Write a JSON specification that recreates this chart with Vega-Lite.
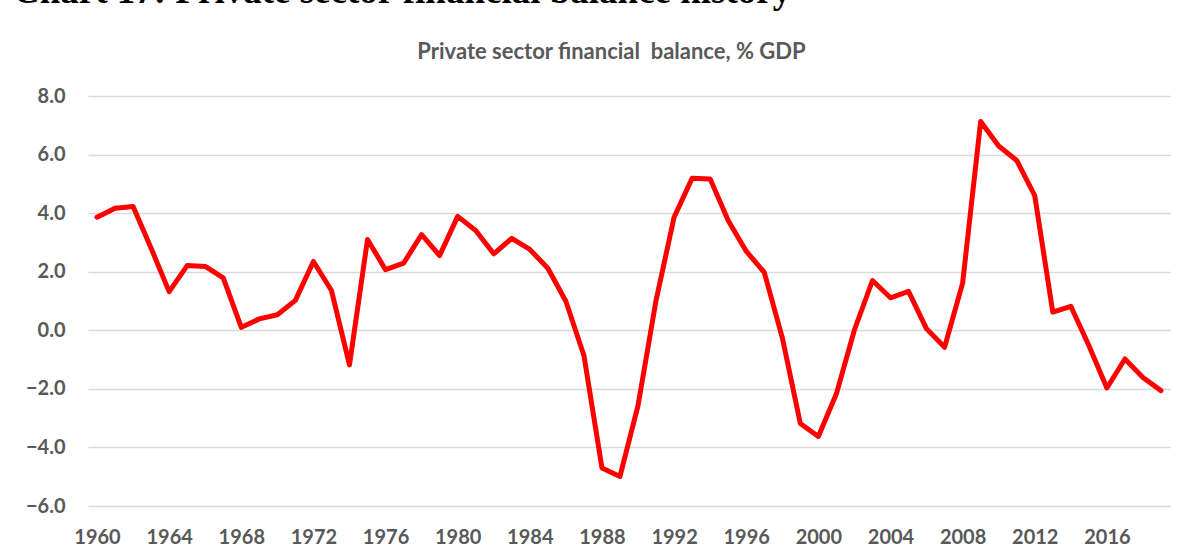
{
  "$schema": "https://vega.github.io/schema/vega-lite/v6.json",
  "autosize": {"type": "none"},
  "padding": {"left": 88, "top": 96, "right": 32, "bottom": 53},
  "width": 1082,
  "height": 410,
  "background": "white",
  "title": {
    "text": "Chart 17: Private sector financial balance history",
    "anchor": "start",
    "frame": "group",
    "font": "Liberation Serif",
    "fontSize": 37,
    "fontWeight": "bold",
    "color": "#000000",
    "baseline": "alphabetic",
    "offset": 0,
    "dx": -75,
    "dy": 0
  },
  "config": {
    "view": {"stroke": null},
    "axis": {
      "labelFont": "Lato",
      "labelFontWeight": "bold",
      "labelFontSize": 20,
      "labelColor": "#595959",
      "ticks": false,
      "domain": false
    }
  },
  "data": {
    "values": [
      {"year": 1960, "balance": 3.86}, {"year": 1961, "balance": 4.17}, {"year": 1962, "balance": 4.23},
      {"year": 1963, "balance": 2.8}, {"year": 1964, "balance": 1.32}, {"year": 1965, "balance": 2.21},
      {"year": 1966, "balance": 2.18}, {"year": 1967, "balance": 1.79}, {"year": 1968, "balance": 0.10},
      {"year": 1969, "balance": 0.39}, {"year": 1970, "balance": 0.53}, {"year": 1971, "balance": 1.02},
      {"year": 1972, "balance": 2.35}, {"year": 1973, "balance": 1.36}, {"year": 1974, "balance": -1.18},
      {"year": 1975, "balance": 3.10}, {"year": 1976, "balance": 2.07}, {"year": 1977, "balance": 2.29},
      {"year": 1978, "balance": 3.27}, {"year": 1979, "balance": 2.55}, {"year": 1980, "balance": 3.89},
      {"year": 1981, "balance": 3.41}, {"year": 1982, "balance": 2.61}, {"year": 1983, "balance": 3.14},
      {"year": 1984, "balance": 2.76}, {"year": 1985, "balance": 2.12}, {"year": 1986, "balance": 0.99},
      {"year": 1987, "balance": -0.86}, {"year": 1988, "balance": -4.70}, {"year": 1989, "balance": -4.99},
      {"year": 1990, "balance": -2.57}, {"year": 1991, "balance": 1.02}, {"year": 1992, "balance": 3.86},
      {"year": 1993, "balance": 5.19}, {"year": 1994, "balance": 5.17}, {"year": 1995, "balance": 3.75},
      {"year": 1996, "balance": 2.70}, {"year": 1997, "balance": 1.98}, {"year": 1998, "balance": -0.25},
      {"year": 1999, "balance": -3.18}, {"year": 2000, "balance": -3.63}, {"year": 2001, "balance": -2.17},
      {"year": 2002, "balance": 0.01}, {"year": 2003, "balance": 1.70}, {"year": 2004, "balance": 1.11},
      {"year": 2005, "balance": 1.33}, {"year": 2006, "balance": 0.05}, {"year": 2007, "balance": -0.58},
      {"year": 2008, "balance": 1.61}, {"year": 2009, "balance": 7.13}, {"year": 2010, "balance": 6.29},
      {"year": 2011, "balance": 5.80}, {"year": 2012, "balance": 4.60}, {"year": 2013, "balance": 0.62},
      {"year": 2014, "balance": 0.82}, {"year": 2015, "balance": -0.52}, {"year": 2016, "balance": -1.97},
      {"year": 2017, "balance": -0.98}, {"year": 2018, "balance": -1.61}, {"year": 2019, "balance": -2.06}
    ]
  },
  "mark": {"type": "line", "color": "#ff0000", "strokeWidth": 5, "strokeJoin": "round", "strokeCap": "round"},
  "encoding": {
    "x": {
      "field": "year",
      "type": "quantitative",
      "scale": {"domain": [1959.5, 2019.5], "nice": false, "zero": false},
      "axis": {
        "values": [1960, 1964, 1968, 1972, 1976, 1980, 1984, 1988, 1992, 1996, 2000, 2004, 2008, 2012, 2016],
        "format": "d",
        "grid": false,
        "labelPadding": 21,
        "labelFlush": false,
        "labelOverlap": false,
        "title": null
      }
    },
    "y": {
      "field": "balance",
      "type": "quantitative",
      "scale": {"domain": [-6, 8], "nice": false},
      "axis": {
        "values": [-6, -4, -2, 0, 2, 4, 6, 8],
        "format": ".1f",
        "grid": true,
        "gridColor": "#d9d9d9",
        "gridWidth": 1.5,
        "labelPadding": 23,
        "title": "Private sector financial\u00a0 balance, % GDP",
        "titleAngle": 0,
        "titleX": 523,
        "titleY": -38,
        "titleAlign": "center",
        "titleBaseline": "alphabetic",
        "titleFont": "Lato",
        "titleFontSize": 22,
        "titleFontWeight": "bold",
        "titleColor": "#595959"
      }
    }
  }
}
